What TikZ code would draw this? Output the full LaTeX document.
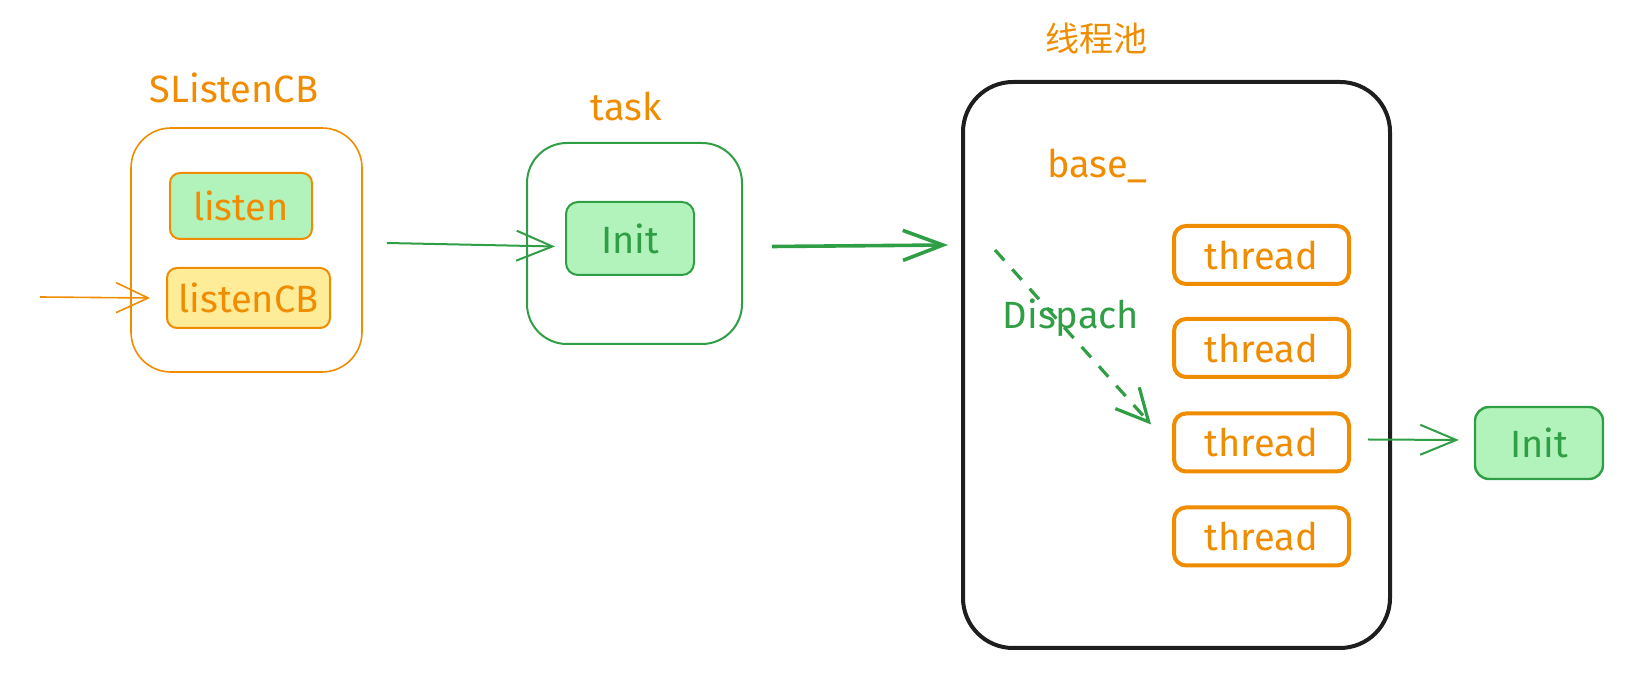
\documentclass[tikz,border=0pt]{standalone}
\usepackage{fontspec}
\setmainfont{Fira Sans}
\newfontfamily\cjk{Noto Sans CJK SC}
\usetikzlibrary{arrows.meta}
\definecolor{exorange}{HTML}{F08C00}
\definecolor{exgreen}{HTML}{2F9E44}
\definecolor{exlgreen}{HTML}{B2F2BB}
\definecolor{exyellow}{HTML}{FFEC99}
\definecolor{exblack}{HTML}{1E1E1E}
\tikzset{
  box/.style={draw, rounded corners=#1, inner sep=0pt},
  lbl/.style={font=\fontsize{19}{21}\selectfont},
  arr/.style={-{Straight Barb[length=18pt,width=15pt]}, line width=1pt, exgreen},
}
\begin{document}
\begin{tikzpicture}[x=0.5pt,y=-0.5pt]
\useasboundingbox (0,0) rectangle (1644,688);
% SListenCB group
\node[lbl, text=exorange] (slcbt) at (234,88) {SListenCB};
\node[box=20pt, exorange, line width=0.8pt, minimum width=115.5pt, minimum height=122pt] (slcb) at (246.5,250) {};
\node[box=5pt, draw=exorange, fill=exlgreen, line width=1pt, minimum width=71pt, minimum height=33pt, text=exorange, lbl] (listen) at (241,206) {listen};
\node[box=5pt, draw=exorange, fill=exyellow, line width=1pt, minimum width=81.5pt, minimum height=30pt, text=exorange, lbl] (listencb) at (248.5,298) {listenCB};
\coordinate (in) at (40,297);
\draw[arr, exorange, line width=0.8pt, -{Straight Barb[length=16pt,width=15pt]}] (in) -- ([xshift=-8pt]listencb.west);
% task group
\node[lbl, text=exorange] (taskt) at (626,106) {task};
\node[box=20pt, exgreen, line width=1pt, minimum width=107.5pt, minimum height=100.5pt] (task) at (634.5,243.5) {};
\node[box=6pt, draw=exgreen, fill=exlgreen, line width=1pt, minimum width=64pt, minimum height=36.5pt, text=exgreen, lbl] (init1) at (630,238.5) {Init};
\draw[arr] ([xshift=12pt,yshift=3.5pt]slcb.east) -- ([xshift=-5pt,yshift=-4pt]init1.west);
% pool
\node[text=exorange, font=\cjk\fontsize{17}{19}\selectfont] (poolt) at (1096,39) {线程池};
\node[box=25pt, exblack, line width=2pt, minimum width=213.5pt, minimum height=283pt] (pool) at (1176.5,365) {};
\draw[arr, line width=1.8pt, -{Straight Barb[length=20pt,width=15pt]}] ([xshift=14.5pt,yshift=-1.5pt]task.east) -- ([xshift=-6.5pt,yshift=60pt]pool.west);
\node[lbl, text=exorange, anchor=west] (base) at (1040,166) {base\_};
\foreach \n/\y in {1/255,2/348,3/442.5,4/536.5}{
  \node[box=6pt, draw=exorange, line width=2pt, minimum width=87.5pt, minimum height=29pt, text=exorange, lbl] (th\n) at (1261.5,\y) {thread};
}
\coordinate (dstart) at (995,250);
\draw[arr, line width=1.6pt, dash pattern=on 7pt off 6pt, -{Straight Barb[length=16pt,width=16pt]}] (dstart) -- ([xshift=-10.5pt,yshift=-6.5pt]th3.north west);
\node[lbl, text=exgreen] (disp) at (1071,318) {Dispach};
% right Init
\node[box=7pt, draw=exgreen, fill=exlgreen, line width=1.2pt, minimum width=64pt, minimum height=36pt, text=exgreen, lbl] (init2) at (1539,443) {Init};
\draw[arr] ([xshift=8.5pt,yshift=1.5pt]th3.east) -- ([xshift=-7.5pt,yshift=1.5pt]init2.west);
\end{tikzpicture}
\end{document}
